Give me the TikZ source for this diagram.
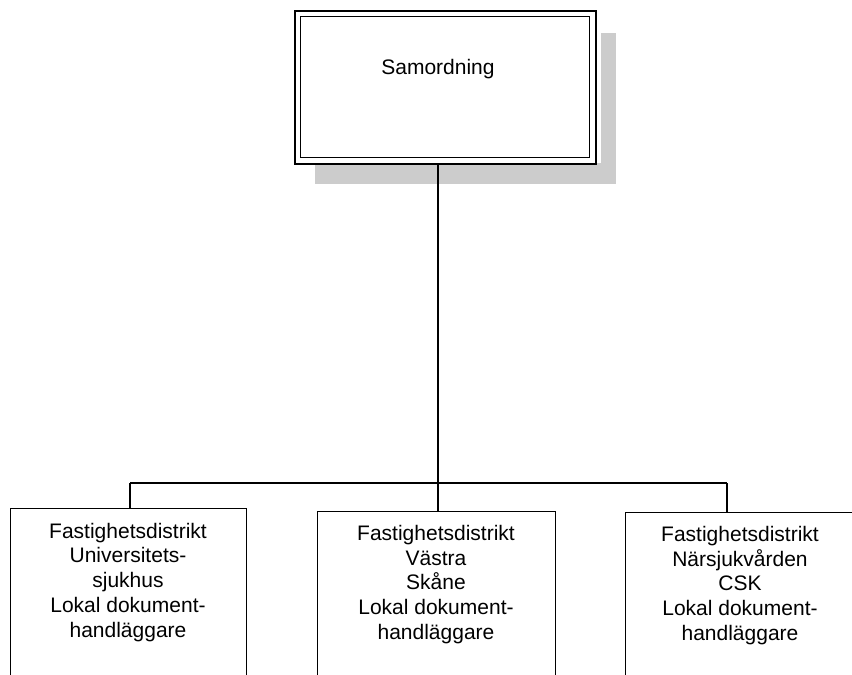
\documentclass[tikz,border=0pt]{standalone}
\usepackage{fontspec}
\setmainfont{Liberation Sans}
\begin{document}
\begin{tikzpicture}[x=1pt,y=-1pt,
  conn/.style={line width=1.4pt,black},
  unitbox/.style={draw=black,line width=1.4pt,rectangle,inner sep=0pt,anchor=north west},
  lbl/.style={align=center,inner sep=0pt,anchor=north,font=\fontsize{21}{24.7}\selectfont}]
\useasboundingbox (0,0) rectangle (852,675);
\clip (0,0) rectangle (852,675);
% shadow of the top box
\fill[gray!40] (315,33) rectangle (616,184);
\fill[white] (294,10) rectangle (601,163);
% top box
\node[draw=black,line width=2.4pt,rectangle,inner sep=0pt,minimum width=301pt,minimum height=153pt,anchor=north west] (top) at (294,10) {};
\node[draw=black,line width=1.1pt,rectangle,inner sep=0pt,minimum width=289pt,minimum height=141pt,anchor=north west] (topin) at (300,16) {};
\node[lbl,anchor=base] (samtext) at (438,74) {Samordning};
% bottom boxes
\node[unitbox,minimum width=236pt,minimum height=172pt] (b1) at (10,508) {};
\node[unitbox,minimum width=238pt,minimum height=169pt] (b2) at (317,511) {};
\node[unitbox,minimum width=231pt,minimum height=168pt] (b3) at (625,512) {};
\node[lbl] (t1) at (128,522.8) {Fastighetsdistrikt\\Universitets-\\sjukhus\\Lokal dokument-\\handläggare};
\node[lbl] (t2) at (436,525) {Fastighetsdistrikt\\Västra\\Skåne\\Lokal dokument-\\handläggare};
\node[lbl] (t3) at (740,526) {Fastighetsdistrikt\\Närsjukvården\\CSK\\Lokal dokument-\\handläggare};
% connectors
\coordinate (jc) at (438,483);
\coordinate (jl) at (130,483);
\coordinate (jr) at (727,483);
\draw[conn] (top.south -| jc) -- (jc);
\draw[conn] (jl) -- (jr);
\draw[conn] (jl) -- (jl |- b1.north);
\draw[conn] (jc) -- (jc |- b2.north);
\draw[conn] (jr) -- (jr |- b3.north);
\end{tikzpicture}
\end{document}
